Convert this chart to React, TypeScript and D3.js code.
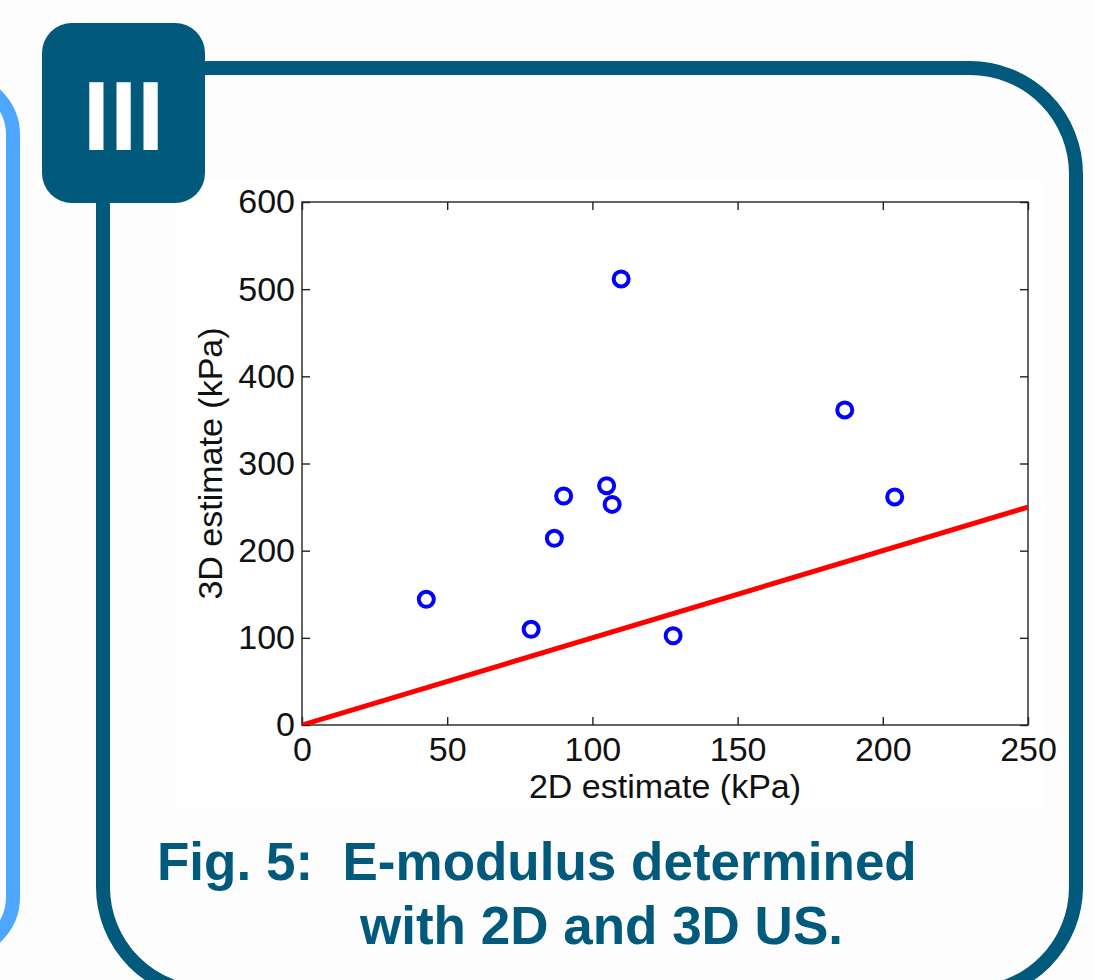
import React from 'react';
import * as d3 from 'd3';

// values (kPa)
const est2D = [42.8, 78.9, 86.9, 90.1, 104.9, 106.8, 109.9, 127.8, 186.9, 204.1];
const est3D = [144.2, 109.8, 214.2, 262.7, 274.5, 253.1, 511.7, 102.4, 361.4, 261.6];
const identityLine = [0, 250];
const xTicks = [0, 50, 100, 150, 200, 250];
const yTicks = [0, 100, 200, 300, 400, 500, 600];
const xLabel = '2D estimate (kPa)';
const yLabel = '3D estimate (kPa)';
const captionLines = ['Fig. 5:  E-modulus determined', 'with 2D and 3D US.'];
const badgeText = 'III';

const TEAL = '#015a7b';
const LIGHT_BLUE = '#4da6ff';
const FONT = '"Liberation Sans", Arial, Helvetica, sans-serif';

const App = () => {
    const svgRef = React.useRef(null);

    React.useEffect(() => {
        const svg = d3.select(svgRef.current);
        svg.selectAll('*').remove();

        const W = 1094, H = 980;
        svg.attr('width', W).attr('height', H);

        // page + poster frames
        svg.append('rect').attr('width', W).attr('height', H).attr('fill', '#fdfdfd');
        svg.append('rect').attr('x', 176).attr('y', 182).attr('width', 866).attr('height', 626).attr('fill', '#ffffff');

        svg.append('rect')
            .attr('x', -120).attr('y', 80).attr('width', 133).attr('height', 872)
            .attr('rx', 55).attr('ry', 55)
            .attr('fill', 'none').attr('stroke', LIGHT_BLUE).attr('stroke-width', 14);

        svg.append('rect')
            .attr('x', 103).attr('y', 68).attr('width', 973).attr('height', 925)
            .attr('rx', 106).attr('ry', 106)
            .attr('fill', 'none').attr('stroke', TEAL).attr('stroke-width', 14);

        // section badge
        svg.append('rect')
            .attr('x', 42).attr('y', 23).attr('width', 163).attr('height', 180)
            .attr('rx', 30).attr('ry', 30).attr('fill', TEAL);
        svg.append('text')
            .attr('x', 123.5).attr('y', 150)
            .attr('text-anchor', 'middle')
            .attr('font-family', FONT).attr('font-weight', 'bold').attr('font-size', 98)
            .attr('fill', '#ffffff')
            .text(badgeText);

        // plot
        const margin = { left: 302, top: 202 };
        const width = 1028 - 302;
        const height = 725 - 202;
        const xScale = d3.scaleLinear().domain([0, 250]).range([0, width]);
        const yScale = d3.scaleLinear().domain([0, 600]).range([height, 0]);

        const chart = svg.append('g').attr('transform', `translate(${margin.left},${margin.top})`);

        const clipId = 'plot-clip';
        chart.append('clipPath').attr('id', clipId)
            .append('rect').attr('width', width).attr('height', height);

        const axisColor = '#222';
        const styleAxis = (g) => {
            g.select('.domain').remove();
            g.selectAll('line').attr('stroke', axisColor).attr('stroke-width', 1.4);
            g.selectAll('text').attr('font-family', FONT).attr('font-size', 34).attr('fill', '#111');
        };

        chart.append('g').attr('transform', `translate(0,${height})`)
            .call(d3.axisBottom(xScale).tickValues(xTicks).tickSize(-8).tickPadding(12).tickFormat(d3.format('d')))
            .call(styleAxis);
        chart.append('g')
            .call(d3.axisTop(xScale).tickValues(xTicks).tickSize(-8).tickFormat(() => ''))
            .call(styleAxis);
        chart.append('g')
            .call(d3.axisLeft(yScale).tickValues(yTicks).tickSize(-8).tickPadding(7).tickFormat(d3.format('d')))
            .call(styleAxis);
        chart.append('g').attr('transform', `translate(${width},0)`)
            .call(d3.axisRight(yScale).tickValues(yTicks).tickSize(-8).tickFormat(() => ''))
            .call(styleAxis);

        chart.append('rect')
            .attr('width', width).attr('height', height)
            .attr('fill', 'none').attr('stroke', axisColor).attr('stroke-width', 1.4);

        // line of identity
        const line = d3.line().x(d => xScale(d)).y(d => yScale(d));
        chart.append('path')
            .datum(identityLine)
            .attr('clip-path', `url(#${clipId})`)
            .attr('d', line)
            .attr('fill', 'none').attr('stroke', '#ff0000').attr('stroke-width', 5);

        // measurements
        chart.selectAll('.pt')
            .data(est2D.map((x, i) => ({ x, y: est3D[i] })))
            .join('circle')
            .attr('class', 'pt')
            .attr('cx', d => xScale(d.x))
            .attr('cy', d => yScale(d.y))
            .attr('r', 7.5)
            .attr('fill', 'none').attr('stroke', '#0000ff').attr('stroke-width', 4);

        // axis titles
        chart.append('text')
            .attr('x', width / 2).attr('y', height + 73)
            .attr('text-anchor', 'middle')
            .attr('font-family', FONT).attr('font-size', 34).attr('fill', '#111')
            .text(xLabel);
        chart.append('text')
            .attr('transform', `translate(${222 - margin.left},${height / 2}) rotate(-90)`)
            .attr('text-anchor', 'middle')
            .attr('font-family', FONT).attr('font-size', 34).attr('fill', '#111')
            .text(yLabel);

        // caption
        const caption = svg.append('text')
            .attr('font-family', FONT).attr('font-weight', 'bold').attr('font-size', 53)
            .attr('fill', TEAL)
            .attr('xml:space', 'preserve')
            .style('white-space', 'pre');
        caption.append('tspan').attr('x', 157).attr('y', 880).text(captionLines[0]);
        caption.append('tspan').attr('x', 360).attr('y', 944).text(captionLines[1]);
    }, []);

    return (
        <svg ref={svgRef} style={{ position: 'absolute', left: 0, top: 0, display: 'block' }}></svg>
    );
};

export default App;
